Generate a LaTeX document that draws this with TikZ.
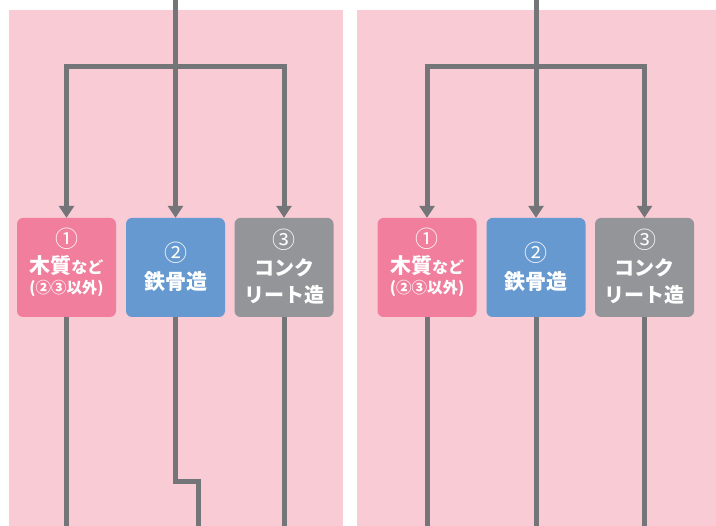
\documentclass[tikz,border=0pt]{standalone}
\usepackage{fontspec}
\newfontfamily\cjk{Noto Sans CJK JP}
\usetikzlibrary{arrows.meta}
\definecolor{bgpink}{HTML}{F8CBD5}
\definecolor{lngray}{HTML}{747579}
\definecolor{boxpink}{HTML}{F07E9C}
\definecolor{boxblue}{HTML}{6699CF}
\definecolor{boxgray}{HTML}{939598}
\newcommand{\fsz}[1]{\fontsize{#1}{#1}\selectfont}
\begin{document}
\begin{tikzpicture}[x=1pt,y=-1pt,
 box/.style={rounded corners=6pt, minimum width=99pt, minimum height=99pt, inner sep=0pt},
 ln/.style={draw=lngray, line width=5pt},
 bar/.style={ln, line cap=rect},
 arr/.style={ln, -{Triangle[length=12pt,width=15pt]}},
 txt/.style={text=white, font=\cjk\bfseries, inner sep=0pt},
 num/.style={text=white, font=\cjk\fsz{23}, inner sep=0pt}]
\useasboundingbox (0,0) rectangle (716,526);
\fill[white] (0,0) rectangle (716,526);
\fill[bgpink] (9,10) rectangle (343,526);
\fill[bgpink] (357,10) rectangle (716,526);

% ---------- left panel ----------
\node[box, fill=boxpink] (L1) at (66.5,267.5) {};
\node[box, fill=boxblue] (L2) at (175.5,267.5) {};
\node[box, fill=boxgray] (L3) at (284,267.5) {};
\node[num] (L1n) at (66.5,239) {①};
\node[txt] (L1a) at (66.5,266) {\fsz{21}木質\fsz{16}など};
\node[txt] (L1b) at (66.5,288) {\fsz{15.5}(②③以外)};
\node[num] (L2n) at (175.5,253) {②};
\node[txt] (L2a) at (175.5,282) {\fsz{21}鉄骨造};
\node[num] (L3n) at (284,240) {③};
\node[txt] (L3a) at (284,268) {\fsz{20}コンク};
\node[txt] (L3b) at (284,295) {\fsz{20}リート造};

\coordinate (Ltop) at (L2.north |- 0,0);
\coordinate (Lj) at (L2.north |- 0,67);
\coordinate (Lb1) at (L1.north |- Lj);
\coordinate (Lb3) at (L3.north |- Lj);
\coordinate (Lk1) at (L2.south |- 0,482);
\coordinate (Lk2) at (198,482);
\coordinate (Lend1) at (L1.south |- 0,526);
\coordinate (Lend2) at (Lk2 |- 0,526);
\coordinate (Lend3) at (L3.south |- 0,526);

\draw[bar] (Lb1) -- (Lb3);
\draw[arr] (Ltop) -- (L2.north);
\draw[arr] (Lb1) -- (L1.north);
\draw[arr] (Lb3) -- (L3.north);
\draw[ln] (L1.south) -- (Lend1);
\draw[ln] (L2.south) -- (Lk1) -- (Lk2) -- (Lend2);
\draw[ln] (L3.south) -- (Lend3);

% ---------- right panel ----------
\node[box, fill=boxpink] (R1) at (427,267.5) {};
\node[box, fill=boxblue] (R2) at (536,267.5) {};
\node[box, fill=boxgray] (R3) at (644.5,267.5) {};
\node[num] (R1n) at (427,239) {①};
\node[txt] (R1a) at (427,266) {\fsz{21}木質\fsz{16}など};
\node[txt] (R1b) at (427,288) {\fsz{15.5}(②③以外)};
\node[num] (R2n) at (536,253) {②};
\node[txt] (R2a) at (536,282) {\fsz{21}鉄骨造};
\node[num] (R3n) at (644.5,240) {③};
\node[txt] (R3a) at (644.5,268) {\fsz{20}コンク};
\node[txt] (R3b) at (644.5,295) {\fsz{20}リート造};

\coordinate (Rtop) at (R2.north |- 0,0);
\coordinate (Rj) at (R2.north |- 0,67);
\coordinate (Rb1) at (R1.north |- Rj);
\coordinate (Rb3) at (R3.north |- Rj);
\coordinate (Rend1) at (R1.south |- 0,526);
\coordinate (Rend2) at (R2.south |- 0,526);
\coordinate (Rend3) at (R3.south |- 0,526);

\draw[bar] (Rb1) -- (Rb3);
\draw[arr] (Rtop) -- (R2.north);
\draw[arr] (Rb1) -- (R1.north);
\draw[arr] (Rb3) -- (R3.north);
\draw[ln] (R1.south) -- (Rend1);
\draw[ln] (R2.south) -- (Rend2);
\draw[ln] (R3.south) -- (Rend3);
\end{tikzpicture}
\end{document}
